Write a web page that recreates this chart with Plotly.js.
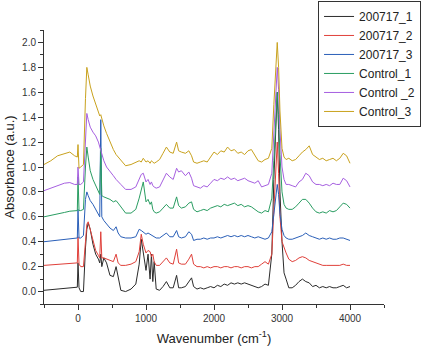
<!DOCTYPE html>
<html>
<head>
<meta charset="utf-8">
<script src="https://cdn.plot.ly/plotly-3.0.1.min.js"></script>
<style>
  html, body { margin: 0; padding: 0; background: #fff; }
  #chart { width: 423px; height: 347px; }
</style>
</head>
<body>
<div id="chart"></div>
<script>
// shared wavenumber grid (cm-1)
const wavenumber = [
  -500, -400, -300, -200, -120, -50, -10, 0, 15, 40,
  80, 110, 130, 150, 180, 220, 260, 300, 320, 335,
  350, 380, 420, 470, 520, 560, 590, 630, 700, 780,
  850, 900, 930, 960, 1000, 1030, 1060, 1080, 1100, 1120,
  1150, 1200, 1250, 1300, 1350, 1400, 1450, 1480, 1520, 1580,
  1630, 1670, 1700, 1750, 1800, 1850, 1900, 1950, 2000, 2050,
  2100, 2150, 2200, 2250, 2300, 2350, 2400, 2450, 2500, 2550,
  2600, 2650, 2700, 2750, 2800, 2850, 2880, 2910, 2930, 2950,
  2970, 3000, 3030, 3060, 3100, 3150, 3200, 3250, 3300, 3350,
  3400, 3450, 3500, 3550, 3600, 3650, 3700, 3750, 3800, 3850, 3900, 3950, 4000
];

const sample1 = [
  0.01, 0.015, 0.02, 0.025, 0.03, 0.035, 0.035, 0.23, 0.03, 0.0,
  0.0, 0.35, 0.5, 0.55, 0.5, 0.38, 0.3, 0.26, 0.23, 0.3,
  0.2, 0.27, 0.23, 0.13, 0.12, 0.2, 0.12, 0.01, 0.0, 0.02,
  0.06, 0.22, 0.42, 0.3, 0.17, 0.3, 0.1, 0.3, 0.08, 0.24,
  0.02, 0.01, 0.04, 0.08, 0.03, 0.03, 0.13, 0.03, 0.03, 0.04,
  0.08, 0.11, 0.04, 0.02, 0.03, 0.02, 0.03, 0.04, 0.03, 0.05,
  0.04, 0.06, 0.05, 0.07, 0.06, 0.07, 0.06, 0.07, 0.06, 0.05,
  0.04, 0.03, 0.04, 0.06, 0.05, 0.3, 0.9, 1.4, 1.6, 1.3,
  0.8, 0.4, 0.15, 0.1, 0.03, 0.03, 0.05, 0.08, 0.1, 0.08,
  0.07, 0.04, 0.05, 0.03, 0.04, 0.03, 0.04, 0.03, 0.03, 0.04, 0.05, 0.03, 0.04
];

const sample2 = [
  0.21, 0.215, 0.22, 0.225, 0.23, 0.23, 0.23, 0.44, 0.22, 0.2,
  0.2, 0.4, 0.54, 0.56, 0.5, 0.4, 0.33, 0.29, 0.27, 0.48,
  0.27, 0.27, 0.26, 0.25, 0.24, 0.3, 0.23, 0.21, 0.21, 0.22,
  0.24, 0.32, 0.46, 0.38, 0.31, 0.33, 0.32, 0.28, 0.3, 0.24,
  0.21, 0.21, 0.24, 0.27, 0.23, 0.22, 0.34, 0.23, 0.22, 0.22,
  0.26, 0.3, 0.22, 0.2, 0.2, 0.19, 0.2, 0.19, 0.2, 0.2,
  0.19, 0.2, 0.2, 0.19, 0.2, 0.2, 0.19, 0.2, 0.2, 0.19,
  0.2, 0.2, 0.22, 0.24, 0.22, 0.3, 0.65, 1.05, 1.2, 0.95,
  0.6, 0.4, 0.35, 0.31, 0.26, 0.24, 0.25, 0.27, 0.28, 0.27,
  0.25, 0.24, 0.23, 0.22, 0.21, 0.21, 0.21, 0.21, 0.21, 0.21, 0.22, 0.21, 0.21
];

const sample3 = [
  0.40, 0.405, 0.41, 0.415, 0.42, 0.425, 0.43, 0.66, 0.43, 0.43,
  0.45, 0.74, 0.8, 0.77, 0.73, 0.7, 0.66, 0.62, 0.6, 1.38,
  0.6, 0.57, 0.54, 0.51, 0.49, 0.52, 0.47, 0.44, 0.43, 0.43,
  0.44, 0.5, 0.49, 0.48, 0.46, 0.47, 0.46, 0.45, 0.44, 0.44,
  0.43, 0.43, 0.45, 0.47, 0.44, 0.44, 0.49, 0.44, 0.43, 0.44,
  0.48, 0.46, 0.41, 0.42, 0.42, 0.43, 0.42, 0.43, 0.43, 0.44,
  0.43, 0.44, 0.45, 0.44, 0.45, 0.44, 0.45, 0.44, 0.45, 0.44,
  0.43, 0.44, 0.43, 0.42, 0.43, 0.48, 0.62, 0.8, 0.86, 0.78,
  0.62, 0.5, 0.45, 0.43, 0.42, 0.42, 0.43, 0.44, 0.45, 0.47,
  0.45, 0.44, 0.43, 0.42, 0.43, 0.42, 0.43, 0.42, 0.42, 0.43, 0.43, 0.42, 0.41
];

const control1 = [
  0.6, 0.61, 0.62, 0.635, 0.645, 0.65, 0.65, 0.92, 0.65, 0.65,
  0.66, 1.0, 1.16, 1.08, 0.97, 0.9, 0.85, 0.8, 0.78, 1.15,
  0.77, 0.76, 0.75, 0.74, 0.72, 0.73, 0.71, 0.68, 0.63, 0.63,
  0.66, 0.75, 0.82, 0.88, 0.72, 0.74, 0.7, 0.72, 0.66, 0.64,
  0.63, 0.64, 0.67, 0.7, 0.67, 0.67, 0.76, 0.69, 0.67, 0.68,
  0.71, 0.72, 0.66, 0.64, 0.65, 0.66, 0.65, 0.67, 0.68, 0.69,
  0.68, 0.7, 0.69, 0.7, 0.71, 0.69, 0.7, 0.68, 0.69, 0.68,
  0.66, 0.64, 0.63, 0.65, 0.64, 0.75, 1.05, 1.45, 1.6, 1.42,
  1.1, 0.8, 0.7, 0.67, 0.66, 0.66, 0.68, 0.71, 0.74, 0.74,
  0.71, 0.67, 0.64, 0.63, 0.64, 0.63, 0.65, 0.64, 0.65, 0.68, 0.71, 0.7, 0.67
];

const control2 = [
  0.81, 0.83, 0.85, 0.87, 0.875, 0.86, 0.86, 1.0, 0.86, 0.86,
  0.88, 1.3, 1.43, 1.38, 1.32, 1.28, 1.25, 1.2, 1.16, 1.14,
  1.1, 1.05, 1.0, 0.96, 0.93, 0.9, 0.88, 0.86, 0.82, 0.82,
  0.84, 0.9, 0.94, 0.95, 0.88, 0.9, 0.86, 0.88, 0.85, 0.84,
  0.83, 0.84, 0.9, 0.95, 0.92, 0.9, 0.99, 0.96, 0.97, 0.93,
  0.96, 0.91, 0.85, 0.84, 0.83, 0.85, 0.84, 0.87, 0.9, 0.89,
  0.91, 0.9, 0.92, 0.9, 0.91, 0.89, 0.9, 0.91, 0.89, 0.88,
  0.87, 0.89, 0.84, 0.85, 0.86, 0.95, 1.3, 1.65, 1.8, 1.62,
  1.3, 1.0, 0.9, 0.86, 0.86, 0.85, 0.84, 0.88, 0.9, 0.95,
  0.93, 0.88, 0.86, 0.86, 0.85, 0.86, 0.85, 0.87, 0.86, 0.86, 0.91, 0.89, 0.84
];

const control3 = [
  1.02, 1.05, 1.09, 1.11, 1.12, 1.09, 1.08, 1.18, 0.99, 1.0,
  1.02, 1.55, 1.8, 1.74, 1.65, 1.57, 1.5, 1.44, 1.41, 1.42,
  1.38, 1.33, 1.27, 1.2, 1.14, 1.1, 1.08, 1.05, 1.01, 1.02,
  1.04, 1.05, 1.04, 1.07, 1.04, 1.05, 1.03, 1.05, 1.04, 1.03,
  1.04, 1.06, 1.11, 1.16, 1.12, 1.11, 1.2, 1.13, 1.12, 1.11,
  1.13, 1.09, 1.04, 1.03, 1.04, 1.05, 1.04, 1.08, 1.12, 1.1,
  1.13, 1.12, 1.16, 1.13, 1.14, 1.11, 1.12, 1.1, 1.13, 1.14,
  1.09, 1.05, 1.04, 1.06, 1.07, 1.15, 1.5, 1.85, 2.0, 1.8,
  1.45, 1.15, 1.08, 1.06, 1.07, 1.05, 1.06, 1.09, 1.12, 1.14,
  1.17, 1.1, 1.08, 1.06, 1.07, 1.05, 1.06, 1.07, 1.05, 1.07, 1.11, 1.09, 1.03
];

const seriesNames = ['200717_1', '200717_2', '200717_3', 'Control_1', 'Control _2', 'Control_3'];
const seriesData = [sample1, sample2, sample3, control1, control2, control3];
const seriesColors = ['#2b2b2b', '#e0403a', '#2a5fb8', '#2a9d62', '#a65fe0', '#c9a21e'];

const traces = seriesData.map((ys, i) => {
  if (ys.length !== wavenumber.length) console.warn('length mismatch', seriesNames[i], ys.length);
  return {
    x: wavenumber,
    y: ys,
    type: 'scatter',
    mode: 'lines',
    name: seriesNames[i],
    line: { color: seriesColors[i], width: 1 }
  };
});

const axisFont = { family: 'Liberation Sans, Arial, sans-serif', size: 10, color: '#333' };

const layout = {
  width: 423,
  height: 347,
  margin: { l: 44, r: 39, t: 30, b: 43, autoexpand: false },
  paper_bgcolor: '#fff',
  plot_bgcolor: '#fff',
  font: { family: 'Liberation Sans, Arial, sans-serif', color: '#222' },
  xaxis: {
    range: [-500, 4500],
    tickvals: [0, 1000, 2000, 3000, 4000],
    ticks: 'outside', ticklen: 5, tickcolor: '#333',
    minor: { dtick: 500, tick0: 0, ticks: 'outside', ticklen: 3, tickcolor: '#333' },
    showline: true, linecolor: '#333', linewidth: 1,
    showgrid: false, zeroline: false,
    tickfont: axisFont,
    title: { text: 'Wavenumber (cm<sup>-1</sup>)', font: { size: 13, color: '#222' }, standoff: 10 }
  },
  yaxis: {
    range: [-0.1, 2.1],
    dtick: 0.2, tick0: 0,
    tickformat: '.1f',
    ticks: 'outside', ticklen: 5, tickcolor: '#333',
    minor: { dtick: 0.1, tick0: 0, ticks: 'outside', ticklen: 3, tickcolor: '#333' },
    showline: true, linecolor: '#333', linewidth: 1,
    showgrid: false, zeroline: false,
    tickfont: axisFont,
    title: { text: 'Absorbance (a.u.)', font: { size: 13, color: '#222' }, standoff: 4 }
  },
  legend: {
    x: 0.806, xanchor: 'left',
    y: 1.106, yanchor: 'top',
    bgcolor: '#fff',
    bordercolor: '#333', borderwidth: 1,
    font: { size: 12, color: '#222' },
    tracegroupgap: 0
  },
  showlegend: true
};

Plotly.newPlot('chart', traces, layout, { displayModeBar: false, staticPlot: true });
console.log('spectra plotted:', traces.length);
</script>
</body>
</html>
